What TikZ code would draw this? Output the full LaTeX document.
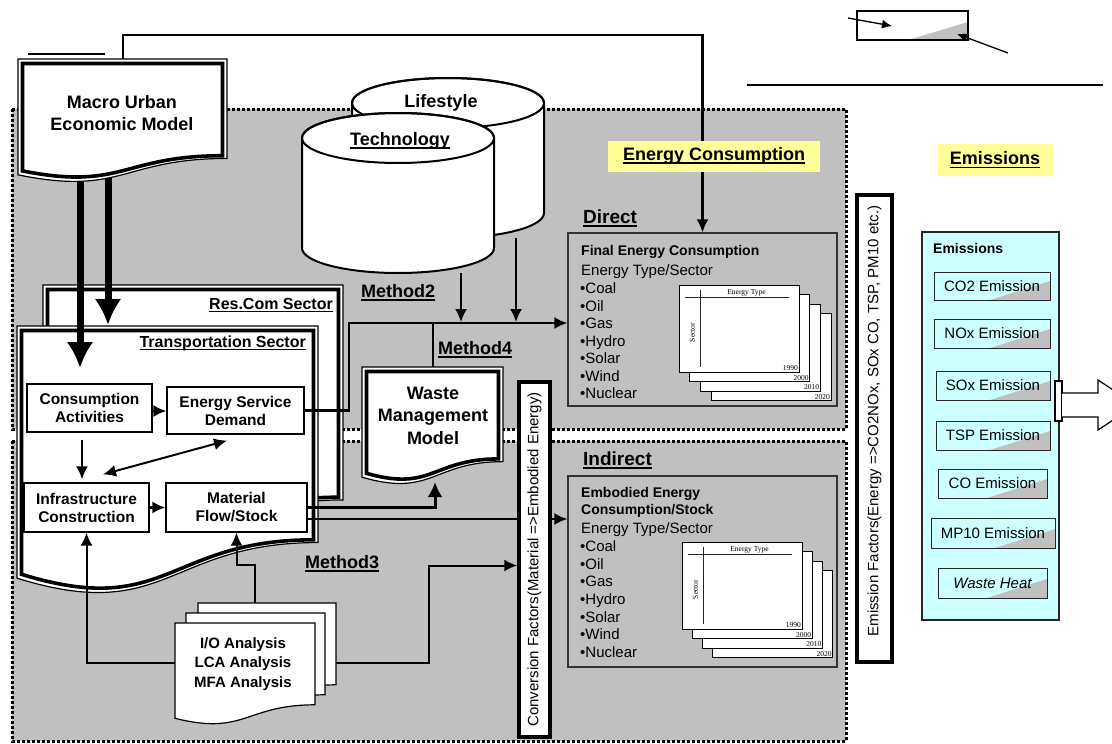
\documentclass[tikz,border=0pt]{standalone}
\usepackage{fontspec}
\setmainfont{Liberation Sans}
\newfontfamily\tms{Liberation Serif}
\usetikzlibrary{arrows.meta}
\definecolor{silver}{HTML}{C0C0C0}
\definecolor{lightyellow}{HTML}{FFFF99}
\definecolor{lightcyan}{HTML}{CCFFFF}
\newcommand{\ulb}[1]{\setbox0=\hbox{#1}\rlap{\rule[-0.2em]{\wd0}{0.1em}}\box0}
\newcommand{\docpath}[5]{\path[#1] ({#2},{#3}) -- ({#2+#4},{#3}) -- ({#2+#4},{#3+0.802*#5}) .. controls ({#2+0.5*#4},{#3+0.802*#5}) and ({#2+0.5*#4},{#3+1.107*#5}) .. ({#2},{#3+0.934*#5}) -- cycle;}
\newcommand{\dbldoc}[4]{\docpath{draw,fill=white,line width=1.2pt}{#1}{#2}{#3}{#4}%
    \pgfmathsetmacro\docx{#1+4.5}\pgfmathsetmacro\docy{#2+4.5}%
    \pgfmathsetmacro\docw{#3-9}\pgfmathsetmacro\doch{#4-9}%
    \docpath{draw,line width=3.6pt}{\docx}{\docy}{\docw}{\doch}}
\tikzset{
    region/.style={fill=silver, draw=black, line width=3pt, dash pattern=on 3pt off 2pt},
    ebox/.style={rectangle, draw=black!80, fill=silver, line width=1.2pt},
    box/.style={rectangle, draw, fill=white, line width=1.2pt, inner sep=1pt, align=center, font=\bfseries\fontsize{15.5}{18}\selectfont},
    bigtext/.style={align=center, inner sep=0pt, font=\bfseries\fontsize{18}{22.5}\selectfont},
    mlabel/.style={anchor=base west, inner sep=0pt, font=\bfseries\fontsize{18}{22}\selectfont},
    seclabel/.style={anchor=base east, inner sep=0pt, font=\bfseries\fontsize{16}{19}\selectfont},
    hilite/.style={fill=lightyellow, inner sep=0pt, font=\bfseries\fontsize{18}{22}\selectfont},
    conn/.style={draw=black, line width=2.2pt},
    dconn/.style={->, > = {Latex[length=13pt,width=12pt]}, draw=black, line width=2.2pt},
    fatarrow/.style={->, > = {Latex[length=26pt,width=27pt]}, draw=black, line width=7pt},
    ptr/.style={->, > = {Latex[length=10pt,width=9pt]}, draw=black, line width=1.3pt},
    vbar/.style={rectangle, draw, fill=white, line width=3.5pt, inner sep=0pt},
    sheet/.style={rectangle, draw, fill=white, line width=1pt, minimum width=120pt, minimum height=87pt, inner sep=0pt},
    smalltxt/.style={font=\tms\fontsize{7.5}{8}\selectfont, inner sep=1.5pt},
    listtxt/.style={anchor=north west, inner sep=0pt, align=left, font=\fontsize{15}{17.5}\selectfont},
    emitem/.style={rectangle, draw=black!85, fill=lightcyan, line width=1pt, inner sep=0pt,
        font=\fontsize{15}{18}\selectfont,
        path picture={\fill[silver] (path picture bounding box.south east) -- ([xshift=-60pt]path picture bounding box.south east) -- ([yshift=19pt]path picture bounding box.south east) -- cycle;}},
}
\begin{document}
\begin{tikzpicture}[x=1pt, y=-1pt]
    \useasboundingbox (0,0) rectangle (1112,744);
    \draw[region] (12,109) rectangle (846,429);
    \draw[region] (12,441) rectangle (846,741);

    \node[ebox, minimum width=269pt, minimum height=173pt] (fe) at (702.5,319.5) {};
    \node[ebox, minimum width=269pt, minimum height=191pt] (eb) at (702.5,571.5) {};

    \draw[line width=1.5pt] (28,54) -- (105,54);
    \fill[silver] (908,40) -- (968,40) -- (968,22) -- cycle;
    \node[draw, line width=1.3pt, minimum width=111pt, minimum height=29pt, inner sep=0pt] (legend) at (912.5,25.5) {};
    \coordinate (la1) at (848,18);
    \coordinate (la2) at (892,26);
    \coordinate (lb1) at (1008,53);
    \coordinate (lb2) at (957,34);
    \draw[ptr] (la1) -- (la2);
    \draw[ptr] (lb1) -- (lb2);
    \draw[line width=1.5pt] (747,85) -- (1103,85);

    \coordinate (mtop) at (123,59);
    \draw[dconn] (mtop) -- ++(0,-24) -| (fe.north);

    \node[hilite, minimum width=212pt, minimum height=31pt] (ecl) at (714,156) {\ulb{Energy Consumption}};
    \node[hilite, minimum width=115pt, minimum height=32pt] (eml) at (995,160) {\ulb{Emissions}};
    \node[mlabel, font=\bfseries\fontsize{19}{22}\selectfont] (direct) at (583,223) {\ulb{Direct}};
    \node[mlabel, font=\bfseries\fontsize{19}{22}\selectfont] (indirect) at (583,465) {\ulb{Indirect}};

    \filldraw[fill=white, line width=2pt] (352,103) -- (352,213) arc[start angle=180, end angle=360, x radius=96pt, y radius=25pt] -- (544,103) arc[start angle=0, end angle=180, x radius=96pt, y radius=25pt] -- cycle;
    \draw[line width=2pt] (448,103) ellipse [x radius=96pt, y radius=25pt];
    \node[bigtext] (life) at (441,103) {Lifestyle};
    \filldraw[fill=white, line width=2pt] (302,138) -- (302,248) arc[start angle=180, end angle=360, x radius=96pt, y radius=25pt] -- (494,138) arc[start angle=0, end angle=180, x radius=96pt, y radius=25pt] -- cycle;
    \draw[line width=2pt] (398,138) ellipse [x radius=96pt, y radius=25pt];
    \node[bigtext] (tech) at (400,141) {\ulb{Technology}};

    \coordinate (techb) at (461,273);
    \coordinate (lifeb) at (516,238);
    \coordinate (j1) at (461,322);
    \coordinate (j2) at (516,322);
    \draw[dconn, line width=2pt] (techb) -- (j1);
    \draw[dconn, line width=2pt] (lifeb) -- (j2);

    \dbldoc{43}{285}{300}{268}
    \dbldoc{17}{326}{301}{270}
    \node[seclabel] (rclbl) at (333,309) {\ulb{Res.Com Sector}};
    \node[seclabel] (tslbl) at (306,347) {\ulb{Transportation Sector}};

    \coordinate (m1) at (80,181);
    \coordinate (m2) at (108,178);
    \coordinate (t1) at (80,368);
    \coordinate (t2) at (108,325);
    \draw[fatarrow] (m1) -- (t1);
    \draw[fatarrow] (m2) -- (t2);

    \dbldoc{18}{59}{209}{124}
    \node[bigtext] (macro) at (122,113) {Macro Urban\\Economic Model};

    \node[box, minimum width=125pt, minimum height=48pt] (ca) at (89.5,408) {Consumption\\Activities};
    \node[box, minimum width=137pt, minimum height=47pt] (esd) at (235.5,410.5) {Energy Service\\Demand};
    \node[box, minimum width=125pt, minimum height=49pt] (ic) at (86.5,507.5) {Infrastructure\\Construction};
    \node[box, minimum width=141pt, minimum height=49pt] (mfs) at (236.5,507.5) {Material\\Flow/Stock};
    \draw[dconn] ([yshift=-3pt]ca.east) coordinate (c1) -- (c1 -| esd.west);
    \draw[dconn] ([xshift=-7.5pt,yshift=-7pt]ca.south) -- ([xshift=-4.5pt,yshift=3pt]ic.north);
    \draw[dconn, <->, line width=2pt] ([xshift=16.5pt,yshift=8pt]ic.north) -- ([xshift=-8.5pt,yshift=-6pt]esd.south);
    \draw[dconn] (ic.east) -- (mfs.west);

    \draw[dconn] (esd.east) -- ++(44,0) |- ([yshift=-3.5pt]fe.west);

    \coordinate (wmmt) at (433,367);
    \draw[conn] (wmmt) -- ++(0,-44);
    \dbldoc{362}{367}{141}{118}
    \node[bigtext] (wmm) at (433,415.5) {Waste\\Management\\Model};

    \coordinate (wmmb) at (435,482);
    \draw[dconn, line width=3pt, > = {Latex[length=15pt,width=15pt]}] ([yshift=0.5pt]mfs.east) -| (wmmb);
    \draw[dconn, line width=2pt] ([yshift=-11.5pt]mfs.east) coordinate (mo) -- (mo -| eb.west);

    \node[anchor=base west, inner sep=0pt, font=\bfseries\fontsize{14}{17}\selectfont] (fet) at (581,255) {Final Energy Consumption};
    \node[anchor=base west, inner sep=0pt, font=\fontsize{15}{18}\selectfont] (fes) at (581,275.5) {Energy Type/Sector};
    \node[listtxt] (fel) at (580,282.6) {\textbullet Coal\\\textbullet Oil\\\textbullet Gas\\\textbullet Hydro\\\textbullet Solar\\\textbullet Wind\\\textbullet Nuclear};
    \node[sheet] (fs4) at (771.1,357.3) {};
    \node[smalltxt, anchor=south east] (fy4) at (fs4.south east) {2020};
    \node[sheet] (fs3) at (760.4,347.7) {};
    \node[smalltxt, anchor=south east] (fy3) at (fs3.south east) {2010};
    \node[sheet] (fs2) at (749.7,338.1) {};
    \node[smalltxt, anchor=south east] (fy2) at (fs2.south east) {2000};
    \node[sheet] (fs1) at (739,328.5) {};
    \node[smalltxt, anchor=south east] (fy1) at (fs1.south east) {1990};
    \draw[line width=1.5pt, black!85] ([shift={(6,13)}]fs1.north west) -- ([shift={(110,13)}]fs1.north west);
    \draw[line width=1.5pt, black!85] ([shift={(22,5)}]fs1.north west) -- ([shift={(22,82)}]fs1.north west);
    \node[smalltxt] (fet1) at ([shift={(68,8)}]fs1.north west) {Energy Type};
    \node[smalltxt, rotate=90] (fsc1) at ([shift={(14,48)}]fs1.north west) {Sector};

    \node[anchor=north west, inner sep=0pt, align=left, font=\bfseries\fontsize{14}{17}\selectfont] (ebt) at (581,486.8) {Embodied Energy\\Consumption/Stock};
    \node[anchor=base west, inner sep=0pt, font=\fontsize{15}{18}\selectfont] (ebs) at (581,533.5) {Energy Type/Sector};
    \node[listtxt, font=\fontsize{15}{17.6}\selectfont] (ebl) at (580,540.6) {\textbullet Coal\\\textbullet Oil\\\textbullet Gas\\\textbullet Hydro\\\textbullet Solar\\\textbullet Wind\\\textbullet Nuclear};
    \node[sheet] (es4) at (772.9,614.3) {};
    \node[smalltxt, anchor=south east] (ey4) at (es4.south east) {2020};
    \node[sheet] (es3) at (762.6,604.7) {};
    \node[smalltxt, anchor=south east] (ey3) at (es3.south east) {2010};
    \node[sheet] (es2) at (752.3,595.1) {};
    \node[smalltxt, anchor=south east] (ey2) at (es2.south east) {2000};
    \node[sheet] (es1) at (742,585.5) {};
    \node[smalltxt, anchor=south east] (ey1) at (es1.south east) {1990};
    \draw[line width=1.5pt, black!85] ([shift={(6,13)}]es1.north west) -- ([shift={(110,13)}]es1.north west);
    \draw[line width=1.5pt, black!85] ([shift={(22,5)}]es1.north west) -- ([shift={(22,82)}]es1.north west);
    \node[smalltxt] (eet1) at ([shift={(68,8)}]es1.north west) {Energy Type};
    \node[smalltxt, rotate=90] (esc1) at ([shift={(14,48)}]es1.north west) {Sector};

    \node[vbar, minimum width=31pt, minimum height=355pt] (cf) at (534.5,559.5) {};
    \node[rotate=90, inner sep=0pt, font=\fontsize{15}{18}\selectfont] (cft) at (cf.center) {Conversion Factors(Material =>Embodied Energy)};

    \node[mlabel] (m2lbl) at (361,297.5) {\ulb{Method2}};
    \node[mlabel] (m4lbl) at (438,354.5) {\ulb{Method4}};
    \node[mlabel] (m3lbl) at (305,568.5) {\ulb{Method3}};

    \docpath{draw,fill=white,line width=1.2pt}{198}{603}{138}{102}
    \docpath{draw,fill=white,line width=1.2pt}{186}{613}{139}{102}
    \docpath{draw,fill=white,line width=1.2pt}{175}{623}{140}{102}
    \node[align=center, inner sep=0pt, font=\bfseries\fontsize{15}{19.5}\selectfont] (stack) at (243,664) {I/O Analysis\\LCA Analysis\\MFA Analysis};
    \coordinate (sl) at (175,663);
    \coordinate (st) at (255,603);
    \coordinate (sr) at (336,663);
    \draw[dconn, line width=2pt] (sl) -| (ic.south);
    \draw[dconn, line width=2pt] (st) -- ++(0,-38) -| (mfs.south);
    \draw[dconn, line width=2pt] (sr) -- ++(93,0) |- ([yshift=-6pt]cf.west);

    \node[vbar, minimum width=35pt, minimum height=467pt] (ef) at (874.5,428.5) {};
    \node[rotate=90, inner sep=0pt, font=\fontsize{15}{18}\selectfont] (eft) at (874.5,421) {Emission Factors(Energy =>CO2NOx, SOx CO, TSP, PM10 etc.)};

    \node[rectangle, draw=black!85, fill=lightcyan, line width=1.2pt, minimum width=137pt, minimum height=388pt] (em) at (990.5,426) {};
    \node[anchor=base west, inner sep=0pt, font=\bfseries\fontsize{14}{17}\selectfont] (emt) at (933,253) {Emissions};
    \node[emitem, minimum width=116pt, minimum height=28pt] (co2) at (992,286) {CO2 Emission};
    \node[emitem, minimum width=116pt, minimum height=29pt] (nox) at (992,333.5) {NOx Emission};
    \node[emitem, minimum width=114pt, minimum height=29pt] (sox) at (993,385.5) {SOx Emission};
    \node[emitem, minimum width=114pt, minimum height=29pt] (tsp) at (993,435.5) {TSP Emission};
    \node[emitem, minimum width=109pt, minimum height=29pt] (co) at (992.5,483.5) {CO Emission};
    \node[emitem, minimum width=124pt, minimum height=30pt] (mp10) at (993,533) {MP10 Emission};
    \node[emitem, minimum width=109pt, minimum height=30pt] (wh) at (992.5,583) {\itshape Waste Heat};

    \draw[line width=1.2pt, fill=white] (1055,381) rectangle (1062,421);
    \draw[line width=1.2pt, fill=white] (1062,393) -- (1098,393) -- (1098,380) -- (1136,405) -- (1098,430) -- (1098,417) -- (1062,417);
\end{tikzpicture}
\end{document}
